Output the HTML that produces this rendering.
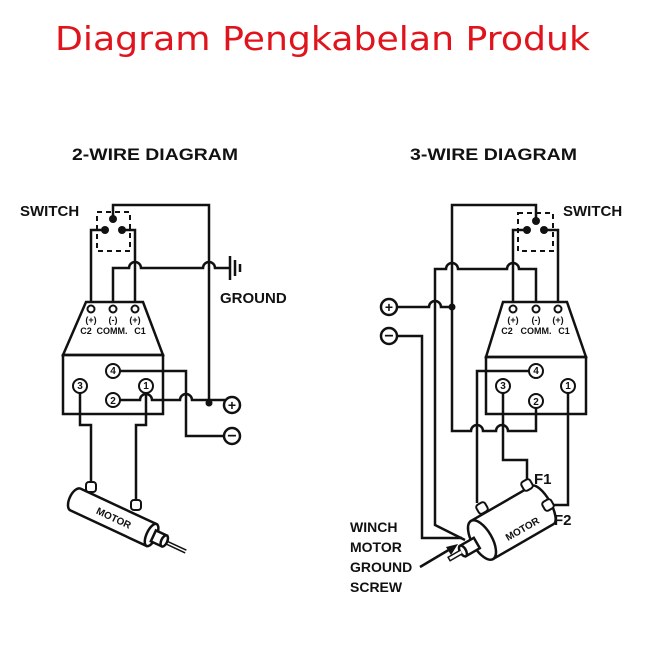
<!DOCTYPE html>
<html><head><meta charset="utf-8"><style>html,body{margin:0;padding:0;background:#fff;}svg{display:block}</style></head>
<body>
<svg width="666" height="666" viewBox="0 0 666 666" xmlns="http://www.w3.org/2000/svg">
<text x="55" y="50" font-family="DejaVu Sans, Liberation Sans, sans-serif" font-size="33" fill="#e0141c" textLength="535" lengthAdjust="spacingAndGlyphs">Diagram Pengkabelan Produk</text>
<g font-family="Liberation Sans, sans-serif" font-weight="bold" fill="#111">
<text x="72" y="160" font-size="17" textLength="166" lengthAdjust="spacingAndGlyphs">2-WIRE DIAGRAM</text>
<text x="410" y="160" font-size="17" textLength="167" lengthAdjust="spacingAndGlyphs">3-WIRE DIAGRAM</text>
<text x="20" y="216" font-size="15">SWITCH</text>
<text x="563" y="216" font-size="15">SWITCH</text>
<text x="220" y="303" font-size="15">GROUND</text>
<text x="350" y="532" font-size="14">WINCH</text>
<text x="350" y="552" font-size="14">MOTOR</text>
<text x="350" y="572" font-size="14">GROUND</text>
<text x="350" y="592" font-size="14">SCREW</text>
<text x="534" y="484" font-size="15">F1</text>
<text x="554" y="525" font-size="15">F2</text>
<text x="485" y="527" font-size="15">A</text>
</g>
<g fill="none" stroke="#111" stroke-width="2.5" stroke-linejoin="miter">
<!-- LEFT -->
<rect x="97" y="212" width="33" height="39" stroke-dasharray="5,4" stroke-width="2"/>
<path d="M113 219 V205 H209 V403"/>
<path d="M105 230 H91 V303"/>
<path d="M122 230 H135 V303"/>
<path d="M113 303 V268 H129 A6 6 0 0 1 141 268 H203 A6 6 0 0 1 215 268 H230"/>
<path d="M230 256 V280 M235 260 V276 M240 264 V272"/>
<path d="M86 302 H143 L163 355 H63 Z"/>
<rect x="63" y="355" width="100" height="59"/>
<path d="M120 371 H186 V436 H225"/>
<path d="M120 400 H140 A6 6 0 0 1 152 400 H180 A6 6 0 0 1 192 400 H225"/>
<path d="M80 393 V425 H91 V484"/>
<path d="M146 393 V425 H136 V503"/>
<!-- RIGHT -->
<rect x="518" y="213" width="35" height="38" stroke-dasharray="5,4" stroke-width="2"/>
<path d="M536 221 V205 H452 V431 H471 A6 6 0 0 1 483 431 H496 A6 6 0 0 1 508 431 H536 V408"/>
<path d="M527 230 H513 V303"/>
<path d="M544 230 H558 V303"/>
<path d="M536 303 V269 H519 A6 6 0 0 0 507 269 H458 A6 6 0 0 0 446 269 H435 V525 L465 540"/>
<path d="M396 307 H429 A6 6 0 0 1 441 307 H452"/>
<path d="M396 336 H422 V538 H462"/>
<path d="M503 302 H567 L586 357 H486 Z"/>
<rect x="486" y="357" width="100" height="57"/>
<path d="M529 371 H477 V503"/>
<path d="M503 393 V460 H527 V480"/>
<path d="M568 393 V505 H553"/>
<path d="M420 567 L452 548"/>
</g>
<path d="M458 544 L446 547 L451 555 Z" fill="#111"/>
<g fill="#111">
<circle cx="113" cy="219" r="4"/><circle cx="105" cy="230" r="4"/><circle cx="122" cy="230" r="4"/>
<circle cx="536" cy="221" r="4"/><circle cx="527" cy="230" r="4"/><circle cx="544" cy="230" r="4"/>
<circle cx="209" cy="403" r="3.5"/><circle cx="452" cy="307" r="3.5"/>
</g>
<g fill="#fff" stroke="#111" stroke-width="2">
<circle cx="91" cy="309" r="3.5"/><circle cx="113" cy="309" r="3.5"/><circle cx="135" cy="309" r="3.5"/>
<circle cx="513" cy="309" r="3.5"/><circle cx="536" cy="309" r="3.5"/><circle cx="558" cy="309" r="3.5"/>
<circle cx="113" cy="371" r="7"/><circle cx="80" cy="386" r="7"/><circle cx="146" cy="386" r="7"/><circle cx="113" cy="400" r="7"/>
<circle cx="536" cy="371" r="7"/><circle cx="503" cy="386" r="7"/><circle cx="568" cy="386" r="7"/><circle cx="536" cy="401" r="7"/>
<circle cx="232" cy="405" r="8" stroke-width="2.5"/><circle cx="232" cy="436" r="8" stroke-width="2.5"/>
<circle cx="389" cy="307" r="8" stroke-width="2.5"/><circle cx="389" cy="336" r="8" stroke-width="2.5"/>
</g>
<g font-family="Liberation Sans, sans-serif" font-weight="bold" font-size="10" fill="#111" text-anchor="middle">
<text x="113" y="374">4</text><text x="80" y="389">3</text><text x="146" y="389">1</text><text x="113" y="404">2</text>
<text x="536" y="374">4</text><text x="503" y="389">3</text><text x="568" y="389">1</text><text x="536" y="405">2</text>
<text x="91" y="323" font-size="9">(+)</text><text x="113" y="323" font-size="9">(-)</text><text x="135" y="323" font-size="9">(+)</text>
<text x="86" y="334" font-size="9">C2</text><text x="112" y="334" font-size="9">COMM.</text><text x="140" y="334" font-size="9">C1</text>
<text x="513" y="323" font-size="9">(+)</text><text x="536" y="323" font-size="9">(-)</text><text x="558" y="323" font-size="9">(+)</text>
<text x="507" y="334" font-size="9">C2</text><text x="536" y="334" font-size="9">COMM.</text><text x="564" y="334" font-size="9">C1</text>
<text x="232" y="410" font-size="14">+</text><text x="232" y="441" font-size="16">−</text>
<text x="389" y="312" font-size="14">+</text><text x="389" y="341" font-size="16">−</text>
</g>
<g transform="translate(70 497) rotate(25)" stroke="#111" stroke-width="2.5" fill="#fff">
<path d="M6 -12 H90 V12 H6 A6 12 0 0 1 6 -12 Z"/>
<ellipse cx="90" cy="0" rx="5" ry="12"/>
<rect x="92" y="-6" width="12" height="12" />
<ellipse cx="104" cy="0" rx="3" ry="6"/>
<path d="M106 -1 H128 M106 2 H128" stroke-width="1.5"/>
<text x="30" y="4" font-family="Liberation Sans, sans-serif" font-weight="bold" font-size="10" fill="#111" stroke="none">MOTOR</text>
</g>
<g fill="#fff" stroke="#111" stroke-width="2">
<rect x="86" y="482" width="10" height="10" rx="3"/>
<rect x="131" y="500" width="10" height="10" rx="3"/>
</g>
<g transform="translate(482 540) rotate(-30)" stroke="#111" stroke-width="2.5" fill="#fff">
<path d="M0 -22 H70 A8 22 0 0 1 70 22 H0 Z"/>
<ellipse cx="0" cy="0" rx="10" ry="22"/>
<rect x="-22" y="-6" width="16" height="12"/>
<ellipse cx="-22" cy="0" rx="3" ry="6"/>
<path d="M-24 -2 H-38 V2 H-24" stroke-width="1.5"/>
<text x="22" y="14" font-family="Liberation Sans, sans-serif" font-weight="bold" font-size="10" fill="#111" stroke="none">MOTOR</text>
</g>
<g fill="#fff" stroke="#111" stroke-width="2">
<rect x="477" y="503" width="10" height="10" rx="3" transform="rotate(-30 482 508)"/>
<rect x="522" y="480" width="10" height="10" rx="3" transform="rotate(-30 527 485)"/>
<rect x="543" y="500" width="10" height="10" rx="3" transform="rotate(-30 548 505)"/>
</g>
</svg>
</body></html>
